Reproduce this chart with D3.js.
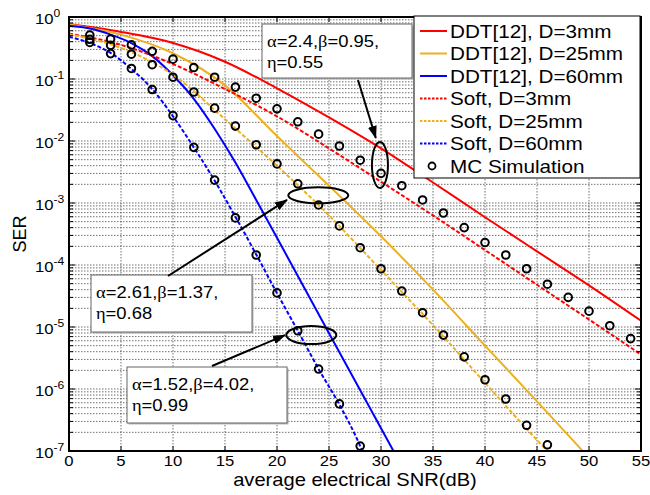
<!DOCTYPE html>
<html>
<head>
<meta charset="utf-8">
<script src="https://cdn.jsdelivr.net/npm/d3@7"></script>
<style>
  html, body { margin: 0; padding: 0; background: #fff; }
  svg { display: block; font-family: Arial, "Liberation Sans", sans-serif; }
</style>
</head>
<body>
<svg id="chart" width="650" height="495"></svg>
<script>
// SER vs average electrical SNR, DDT[12] vs soft detection, with MC markers.

// ─── data ───────────────────────────────────────────────────────────────────

var snrRed = [0, 5, 10, 15, 20, 25, 30, 35, 40, 45, 50, 55];
var ddt3mm = [0.77, 0.575, 0.38, 0.19, 0.0708, 0.024, 7.6e-3, 2.14e-3, 5.9e-4, 1.66e-4, 4.7e-5, 1.26e-5];
var soft3mm = [0.54, 0.355, 0.174, 0.069, 0.025, 7.6e-3, 2.2e-3, 6.3e-4, 1.74e-4, 4.8e-5, 1.32e-5, 3.6e-6];

var snrDdt25 = [0, 5, 10, 15, 20, 25, 30, 35, 40, 45, 49.4];
var ddt25mm = [0.76, 0.52, 0.26, 0.079, 0.012, 1.9e-3, 2.9e-4, 4.0e-5, 5.0e-6, 6.3e-7, 1e-7];
var snrSoft25 = [0, 5, 10, 15, 20, 25, 30, 35, 40, 45, 46];
var soft25mm = [0.525, 0.316, 0.117, 0.0224, 3.98e-3, 6.3e-4, 8.3e-5, 1.07e-5, 1.26e-6, 1.5e-7, 1e-7];

var snrDdt60 = [0, 2, 4, 6, 8, 10, 12, 14, 16, 18, 20, 25, 31.2];
var ddt60mm = [0.72, 0.65, 0.52, 0.38, 0.234, 0.115, 0.048, 0.0158, 4.5e-3, 1.12e-3, 2.75e-4, 7.9e-6, 1e-7];
var snrSoft60 = [0, 2, 4, 6, 8, 10, 12, 14, 16, 18, 20, 22, 24, 26, 28, 28.2];
var soft60mm = [0.48, 0.38, 0.263, 0.145, 0.069, 0.025, 7.9e-3, 2.3e-3, 6.0e-4, 1.48e-4, 3.5e-5, 8.7e-6, 2.1e-6, 5.6e-7, 1.2e-7, 1e-7];

// Monte-Carlo markers
var mcSnr3 = [2, 4, 6, 8, 10, 12, 14, 16, 18, 20, 22, 24, 26, 28, 30, 32, 34, 36, 38, 40, 42, 44, 46, 48, 50, 52, 54];
var mc3mm = [0.51, 0.44, 0.355, 0.28, 0.209, 0.153, 0.107, 0.074, 0.049, 0.033, 0.0204, 0.0129, 8.3e-3, 4.9e-3,
  3.0e-3, 1.9e-3, 1.12e-3, 6.9e-4, 4.0e-4, 2.3e-4, 1.45e-4, 8.7e-5, 4.9e-5, 3.0e-5, 1.8e-5, 1.05e-5, 6.5e-6];
var mcSnr25 = [2, 4, 6, 8, 10, 12, 14, 16, 18, 20, 22, 24, 26, 28, 30, 32, 34, 36, 38, 40, 42, 44, 46];
var mc25mm = [0.437, 0.35, 0.251, 0.17, 0.107, 0.0617, 0.0339, 0.0174, 8.7e-3, 4.27e-3, 2.04e-3, 9.3e-4,
  4.27e-4, 1.9e-4, 8.7e-5, 3.8e-5, 1.7e-5, 7.4e-6, 3.3e-6, 1.41e-6, 6.9e-7, 2.6e-7, 1.26e-7];
var mcSnr60 = [2, 4, 6, 8, 10, 12, 14, 16, 18, 20, 22, 24, 26, 28];
var mc60mm = [0.389, 0.257, 0.148, 0.0676, 0.0257, 7.9e-3, 2.34e-3, 5.75e-4, 1.45e-4, 3.55e-5, 8.7e-6, 2.1e-6, 5.75e-7, 1.2e-7];

var xTicks = [0, 5, 10, 15, 20, 25, 30, 35, 40, 45, 50, 55];
var yDecades = [0, -1, -2, -3, -4, -5, -6, -7];
var legendLabels = ['DDT[12], D=3mm', 'DDT[12], D=25mm', 'DDT[12], D=60mm',
  'Soft, D=3mm', 'Soft, D=25mm', 'Soft, D=60mm', 'MC Simulation'];

// ─── setup ──────────────────────────────────────────────────────────────────

var SX = 1.15;            // the reference text is stretched horizontally
var RED = '#ff0000', ORANGE = '#edb120', BLUE = '#0000ff';

var svg = d3.select('#chart');
var x = d3.scaleLinear().domain([0, 55]).range([69, 641]);
var y = d3.scaleLog().domain([1e-7, 1]).range([451, 17]);

function zip(xs, ys) { return xs.map(function (v, i) { return [v, ys[i]]; }); }

function stretchText(sel, px, py) {
  return sel.attr('transform', 'translate(' + px + ',' + py + ') scale(' + SX + ',1)');
}

var series = [
  { snr: snrRed, ser: ddt3mm, color: RED, dash: null },
  { snr: snrDdt25, ser: ddt25mm, color: ORANGE, dash: null },
  { snr: snrDdt60, ser: ddt60mm, color: BLUE, dash: null },
  { snr: snrRed, ser: soft3mm, color: RED, dash: '4,2' },
  { snr: snrSoft25, ser: soft25mm, color: ORANGE, dash: '4,2' },
  { snr: snrSoft60, ser: soft60mm, color: BLUE, dash: '4,2' }
];

svg.append('rect').attr('width', 650).attr('height', 495).attr('fill', '#fff');

var defs = svg.append('defs');
defs.append('clipPath').attr('id', 'plotclip').append('rect')
  .attr('x', x(0)).attr('y', y(1)).attr('width', x(55) - x(0)).attr('height', y(1e-7) - y(1));
defs.append('marker').attr('id', 'arrowhead')
  .attr('markerUnits', 'userSpaceOnUse').attr('markerWidth', 13).attr('markerHeight', 10)
  .attr('refX', 12).attr('refY', 5).attr('orient', 'auto')
  .append('path').attr('d', 'M0,0.5 L13,5 L0,9.5 Z').attr('fill', '#000');

// ─── grid ───────────────────────────────────────────────────────────────────

var grid = svg.append('g').attr('stroke', '#333').attr('stroke-width', 0.7).attr('stroke-dasharray', '1.5,1.5');
grid.selectAll('line.gx').data(xTicks).enter().append('line')
  .attr('x1', x).attr('x2', x).attr('y1', y(1)).attr('y2', y(1e-7));
grid.selectAll('line.gy').data(y.ticks()).enter().append('line')
  .attr('x1', x(0)).attr('x2', x(55)).attr('y1', y).attr('y2', y);

// ─── curves and markers ─────────────────────────────────────────────────────

var line = d3.line()
  .x(function (d) { return x(d[0]); })
  .y(function (d) { return y(d[1]); })
  .curve(d3.curveMonotoneX);

var plot = svg.append('g').attr('clip-path', 'url(#plotclip)');
series.forEach(function (s) {
  plot.append('path')
    .attr('d', line(zip(s.snr, s.ser)))
    .attr('fill', 'none')
    .attr('stroke', s.color)
    .attr('stroke-width', 2)
    .attr('stroke-dasharray', s.dash);
});

var mcPoints = zip(mcSnr3, mc3mm).concat(zip(mcSnr25, mc25mm), zip(mcSnr60, mc60mm));
plot.selectAll('circle.mc').data(mcPoints).enter().append('circle')
  .attr('cx', function (d) { return x(d[0]); })
  .attr('cy', function (d) { return y(d[1]); })
  .attr('r', 3.8)
  .attr('fill', 'none')
  .attr('stroke', '#000')
  .attr('stroke-width', 2);

// ─── frame, ticks, labels ───────────────────────────────────────────────────

var axes = svg.append('g').attr('stroke', '#000');
xTicks.forEach(function (t) {
  axes.append('line').attr('x1', x(t)).attr('x2', x(t)).attr('y1', y(1e-7)).attr('y2', y(1e-7) - 5).attr('stroke-width', 1);
  axes.append('line').attr('x1', x(t)).attr('x2', x(t)).attr('y1', y(1)).attr('y2', y(1) + 5).attr('stroke-width', 1);
});
y.ticks().forEach(function (t) {
  var major = Math.abs(Math.log10(t) - Math.round(Math.log10(t))) < 1e-9;
  var len = major ? 6 : 4;
  axes.append('line').attr('x1', x(0)).attr('x2', x(0) + len).attr('y1', y(t)).attr('y2', y(t)).attr('stroke-width', 1);
  axes.append('line').attr('x1', x(55)).attr('x2', x(55) - len).attr('y1', y(t)).attr('y2', y(t)).attr('stroke-width', 1);
});
axes.append('rect')
  .attr('x', x(0)).attr('y', y(1)).attr('width', x(55) - x(0)).attr('height', y(1e-7) - y(1))
  .attr('fill', 'none').attr('stroke-width', 2);

var labels = svg.append('g').attr('fill', '#000');
xTicks.forEach(function (t) {
  stretchText(labels.append('text'), x(t), 465.5)
    .attr('text-anchor', 'middle').attr('font-size', 14.5).text(t);
});
yDecades.forEach(function (p) {
  var tx = stretchText(labels.append('text'), 35, y(Math.pow(10, p)) + 6.5).attr('font-size', 14.5);
  tx.append('tspan').text('10');
  tx.append('tspan').attr('dy', -7).attr('font-size', 10.5).text(p === 0 ? '0' : String(p));
});
stretchText(labels.append('text'), 355, 486)
  .attr('text-anchor', 'middle').attr('font-size', 17.5).text('average electrical SNR(dB)');
labels.append('text')
  .attr('transform', 'translate(26,234) rotate(-90)')
  .attr('text-anchor', 'middle').attr('font-size', 18).text('SER');

// ─── annotations ────────────────────────────────────────────────────────────

var notes = [
  { box: [262, 24, 150, 54], text: ['α=2.4,β=0.95,', 'η=0.55'],
    ring: [29.9, 4.1e-3, 8, 23], tail: [358, 80], tip: [29.5, 0.0112] },
  { box: [91, 275, 161, 57], text: ['α=2.61,β=1.37,', 'η=0.68'],
    ring: [23.97, 1.33e-3, 30, 8], tail: [168, 276], tip: [20.96, 1.12e-3] },
  { box: [127, 367, 160, 56], text: ['α=1.52,β=4.02,', 'η=0.99'],
    ring: [23.3, 7.4e-6, 25, 9], tail: [212, 366], tip: [20.77, 7.4e-6] }
];

function writeMixed(textSel, str) {
  // Greek letters in a serif face, the rest in the sans face
  str.split(/([αβη])/).filter(Boolean).forEach(function (part) {
    var ts = textSel.append('tspan').text(part);
    if (/[αβη]/.test(part)) ts.attr('font-family', '"Liberation Serif", "Times New Roman", serif');
  });
}

var ann = svg.append('g');
notes.forEach(function (n) {
  ann.append('rect')
    .attr('x', n.box[0] + 1.5).attr('y', n.box[1] + 1.5).attr('width', n.box[2]).attr('height', n.box[3])
    .attr('fill', '#bbb');
  ann.append('rect')
    .attr('x', n.box[0]).attr('y', n.box[1]).attr('width', n.box[2]).attr('height', n.box[3])
    .attr('fill', '#fff').attr('stroke', '#666').attr('stroke-width', 1);
  n.text.forEach(function (s, i) {
    var t = stretchText(ann.append('text'), n.box[0] + 5, n.box[1] + 23 + i * 21).attr('font-size', 16);
    writeMixed(t, s);
  });
  ann.append('ellipse')
    .attr('cx', x(n.ring[0])).attr('cy', y(n.ring[1])).attr('rx', n.ring[2]).attr('ry', n.ring[3])
    .attr('fill', 'none').attr('stroke', '#000').attr('stroke-width', 2);
  ann.append('line')
    .attr('x1', n.tail[0]).attr('y1', n.tail[1]).attr('x2', x(n.tip[0])).attr('y2', y(n.tip[1]))
    .attr('stroke', '#000').attr('stroke-width', 2).attr('marker-end', 'url(#arrowhead)');
});

// ─── legend ─────────────────────────────────────────────────────────────────

var legend = svg.append('g').attr('transform', 'translate(414,16)');
legend.append('rect').attr('width', 226).attr('height', 162)
  .attr('fill', '#fff').attr('stroke', '#000').attr('stroke-width', 1);
legendLabels.forEach(function (label, i) {
  var cy = 15 + i * 22.5;
  if (i < series.length) {
    legend.append('line').attr('x1', 6).attr('x2', 33).attr('y1', cy).attr('y2', cy)
      .attr('stroke', series[i].color).attr('stroke-width', 2)
      .attr('stroke-dasharray', series[i].dash ? '2.5,1.5' : null);
  } else {
    legend.append('circle').attr('cx', 18).attr('cy', cy).attr('r', 3.5)
      .attr('fill', 'none').attr('stroke', '#000').attr('stroke-width', 1.8);
  }
  stretchText(legend.append('text'), 36, cy + 6.5).attr('font-size', 18).text(label);
});
</script>
</body>
</html>
